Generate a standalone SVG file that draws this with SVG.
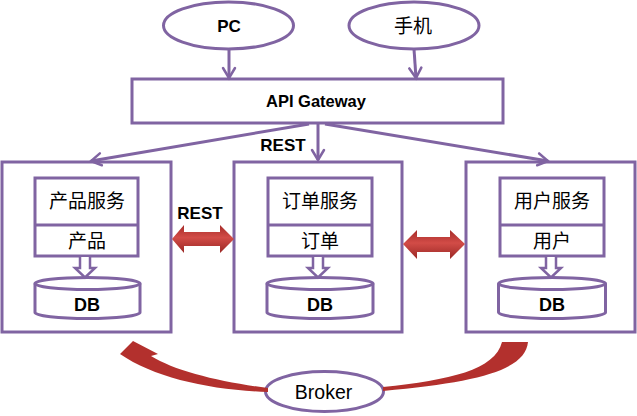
<svg xmlns="http://www.w3.org/2000/svg" width="637" height="416" viewBox="0 0 637 416">
<defs>
<style>
.pl{fill:#fff;stroke:#8064A2;stroke-width:3}
.ln{fill:none;stroke:#8064A2;stroke-width:3}
.ba{fill:#fff;stroke:#8064A2;stroke-width:2.5;stroke-linejoin:miter}
.b{font-family:"Liberation Sans",Arial,sans-serif;font-weight:bold;fill:#000;text-anchor:middle}
.r{font-family:"Liberation Sans",Arial,sans-serif;fill:#000;text-anchor:middle}
.c{font-family:"Liberation Sans","Noto Sans CJK SC",sans-serif;fill:#000;text-anchor:middle;font-size:19px}
.red{fill:url(#rg)}
.redc{fill:#B3302D}
</style>
<linearGradient id="rg" x1="0" y1="0" x2="0" y2="1">
<stop offset="0" stop-color="#A62C29"/>
<stop offset="0.45" stop-color="#D24C47"/>
<stop offset="1" stop-color="#9A2825"/>
</linearGradient>
<marker id="ah" markerUnits="userSpaceOnUse" markerWidth="16" markerHeight="16" refX="12" refY="8" orient="auto">
<path d="M2,2 L12,8 L2,14" fill="none" stroke="#8064A2" stroke-width="2.5" stroke-linecap="round"/>
</marker>
</defs>

<g id="pc">
<ellipse class="pl" cx="228.5" cy="25.5" rx="65" ry="23.5"/>
<text class="b" x="229" y="32" font-size="17">PC</text>
</g>
<g id="mobile">
<ellipse class="pl" cx="414" cy="25.5" rx="65" ry="23.5"/>
<text class="c" x="413" y="33" font-size="20">手机</text>
</g>
<g id="gateway">
<rect class="pl" x="132" y="79" width="371" height="44"/>
<text class="b" x="316" y="107" font-size="16.5">API Gateway</text>
</g>

<g id="product">
<rect class="pl" x="2" y="162" width="169" height="170"/>
<rect class="pl" x="35" y="178" width="103" height="78"/>
<line class="ln" x1="35" y1="225" x2="138" y2="225"/>
<text class="c" x="87" y="208">产品服务</text>
<text class="c" x="87" y="248">产品</text>
<path class="pl" d="M35,283.5 L35,312.5 A52.5,6 0 0 0 140,312.5 L140,283.5"/>
<ellipse class="pl" cx="87.5" cy="283.5" rx="52.5" ry="6"/>
<text class="b" x="87" y="310.5" font-size="18">DB</text>
</g>

<g id="order">
<rect class="pl" x="234" y="162" width="168" height="170"/>
<rect class="pl" x="268" y="178" width="104" height="78"/>
<line class="ln" x1="268" y1="225" x2="372" y2="225"/>
<text class="c" x="320" y="208">订单服务</text>
<text class="c" x="320" y="248">订单</text>
<path class="pl" d="M267,283.5 L267,312.5 A53,6 0 0 0 373,312.5 L373,283.5"/>
<ellipse class="pl" cx="320" cy="283.5" rx="53" ry="6"/>
<text class="b" x="320" y="310.5" font-size="18">DB</text>
</g>

<g id="user">
<rect class="pl" x="466" y="162" width="169" height="170"/>
<rect class="pl" x="500" y="178" width="104" height="78"/>
<line class="ln" x1="500" y1="225" x2="604" y2="225"/>
<text class="c" x="552" y="208">用户服务</text>
<text class="c" x="552" y="248">用户</text>
<path class="pl" d="M498.5,283.5 L498.5,312.5 A53.5,6 0 0 0 605.5,312.5 L605.5,283.5"/>
<ellipse class="pl" cx="552" cy="283.5" rx="53.5" ry="6"/>
<text class="b" x="552" y="310.5" font-size="18">DB</text>
</g>

<g id="broker">
<ellipse class="pl" cx="324.5" cy="391.5" rx="59" ry="20"/>
<text class="r" x="323.5" y="399" font-size="19.5">Broker</text>
</g>

<g id="connectors">
<line class="ln" x1="229" y1="49" x2="229" y2="78" marker-end="url(#ah)"/>
<line class="ln" x1="414" y1="49" x2="416" y2="78" marker-end="url(#ah)"/>
<line class="ln" x1="309" y1="124" x2="91" y2="161" marker-end="url(#ah)"/>
<line class="ln" x1="318" y1="124" x2="318" y2="160" marker-end="url(#ah)"/>
<line class="ln" x1="325" y1="124" x2="548" y2="161" marker-end="url(#ah)"/>
<text class="b" x="283" y="151" font-size="17">REST</text>
<path class="ba" d="M80,257 L80,268 L75,268 L85,277.5 L95,268 L90,268 L90,257"/>
<path class="ba" d="M313,257 L313,268 L308,268 L318,277.5 L328,268 L323,268 L323,257"/>
<path class="ba" d="M546,257 L546,268 L541,268 L551,277.5 L561,268 L556,268 L556,257"/>
<path class="red" d="M172,239 L184,225 L184,232 L220,232 L220,225 L234,239 L220,253 L220,246 L184,246 L184,253 Z"/>
<text class="b" x="200" y="219" font-size="17">REST</text>
<path class="red" d="M403,244 L417,230 L417,237 L450,237 L450,230 L465,244 L450,259 L450,252 L417,252 L417,259 Z"/>
<path class="redc" d="M133,341 L158,354 L151,356 C175,371 220,382 268,388 L268,392 C210,390 155,378 120,354 Z"/>
<path class="redc" d="M502,342 L528,342 C525,370 480,382 383,391 L383,387 C450,380 495,370 502,342 Z"/>
</g>
</svg>
